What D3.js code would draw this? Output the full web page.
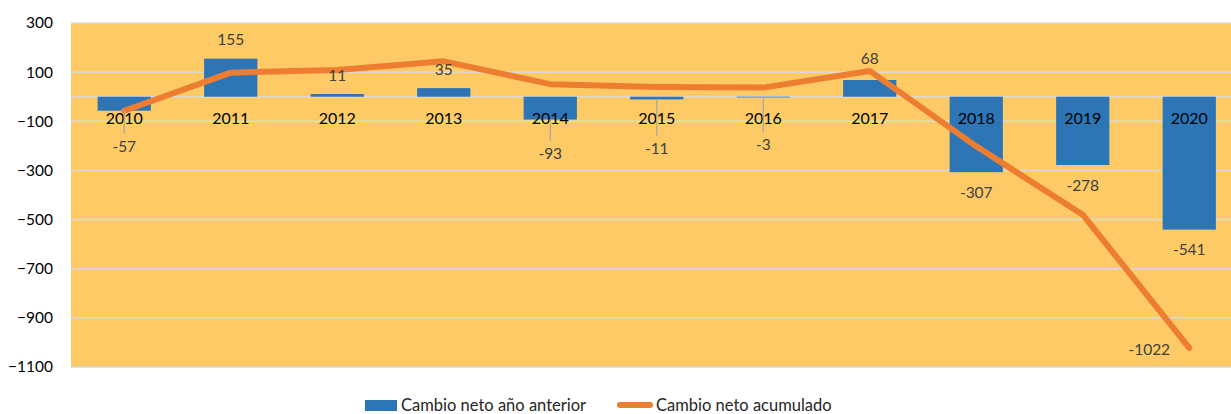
<!DOCTYPE html>
<html><head><meta charset="utf-8">
<script src="https://cdn.jsdelivr.net/npm/d3@7"></script>
<style>body{margin:0;background:#fff}svg{display:block}text{font-family:Lato,"Liberation Sans",sans-serif}</style>
</head><body>
<svg id="c" width="1231" height="414"></svg>
<script>
const categories = ["2010","2011","2012","2013","2014","2015","2016","2017","2018","2019","2020"];
const netChange = [-57,155,11,35,-93,-11,-3,68,-307,-278,-541];
const cumulative = [-57,98,109,144,51,40,37,105,-202,-480,-1022];
const yTicks = [300,100,-100,-300,-500,-700,-900,-1100];
const gridVals = [300,100,0,-100,-300,-500,-700,-900,-1100];
const seriesNames = ["Cambio neto año anterior","Cambio neto acumulado"];

const svg = d3.select("#c");
const L = 71, R = 1231, T = 23, B = 367;
const x = d3.scaleBand().domain(categories).range([L,1242.5]).paddingInner(0.5).paddingOuter(0.25);
const y = d3.scaleLinear().domain([-1100,300]).range([B,T]);
const cx = c => x(c) + x.bandwidth()/2;

svg.append("rect").attr("x",L).attr("y",T).attr("width",R-L).attr("height",B-T).attr("fill","#FECA65");
svg.append("g").selectAll("line").data(gridVals).join("line")
  .attr("x1",L).attr("x2",R).attr("y1",d=>y(d)).attr("y2",d=>y(d))
  .attr("stroke","#D9D9D9").attr("stroke-width",1.5);

const yAxis = d3.axisLeft(y).tickValues(yTicks).tickSize(0).tickPadding(18).tickFormat(d3.format("d"));
const ga = svg.append("g").attr("transform",`translate(${L},0)`).call(yAxis);
ga.select(".domain").remove();
ga.selectAll("text").attr("font-size",15.5).attr("fill","#000").style("font-family","Lato,'Liberation Sans',sans-serif");

// bars
svg.append("g").selectAll("rect").data(categories).join("rect")
  .attr("x",d=>x(d)).attr("width",x.bandwidth())
  .attr("y",(d,i)=>y(Math.max(0,netChange[i])))
  .attr("height",(d,i)=>Math.abs(y(netChange[i])-y(0)))
  .attr("fill","#2E75B6");

// category labels
svg.append("g").selectAll("text").data(categories).join("text")
  .attr("x",d=>cx(d)).attr("y",y(0)+27).attr("text-anchor","middle")
  .attr("font-size",16).attr("fill","#000").text(d=>d);

// line
const line = d3.line().x((d,i)=>cx(categories[i])).y(d=>y(d));
svg.append("path").datum(cumulative).attr("d",line).attr("fill","none")
  .attr("stroke","#ED7D31").attr("stroke-width",6).attr("stroke-linejoin","round").attr("stroke-linecap","round");

// data labels for bars
const moved = {"2010":146,"2014":153,"2015":148,"2016":144};
netChange.forEach((v,i)=>{
  const c = categories[i];
  let ly, leader=false;
  if (moved[c] !== undefined) { ly = moved[c]; leader = true; }
  else if (c === "2017") ly = y(cumulative[i]) - 12;
  else ly = v >= 0 ? y(v) - 19 : y(v) + 20;
  if (leader) {
    svg.append("line").attr("x1",cx(c)).attr("x2",cx(c))
      .attr("y1",y(Math.min(0,v))).attr("y2",ly-12)
      .attr("stroke","#A6A6A6").attr("stroke-width",1.2);
  }
  svg.append("text").attr("x",cx(c)).attr("y",ly+5.5).attr("text-anchor","middle")
    .attr("font-size",15.5).attr("fill","#404040").text(v);
});
// final cumulative label
const lastI = cumulative.length-1;
svg.append("text").attr("x",cx(categories[lastI])-40).attr("y",y(cumulative[lastI])+7)
  .attr("text-anchor","middle").attr("font-size",15.5).attr("fill","#404040").text(cumulative[lastI]);

// legend
const lg = svg.append("g");
lg.append("rect").attr("x",365).attr("y",400).attr("width",32).attr("height",11).attr("fill","#2E75B6");
lg.append("text").attr("x",401).attr("y",411).attr("font-size",16.5).attr("fill","#262626").text(seriesNames[0]);
lg.append("line").attr("x1",620).attr("x2",650).attr("y1",405).attr("y2",405)
  .attr("stroke","#ED7D31").attr("stroke-width",6).attr("stroke-linecap","round");
lg.append("text").attr("x",656).attr("y",411).attr("font-size",16.5).attr("fill","#262626").text(seriesNames[1]);
</script>
</body></html>
